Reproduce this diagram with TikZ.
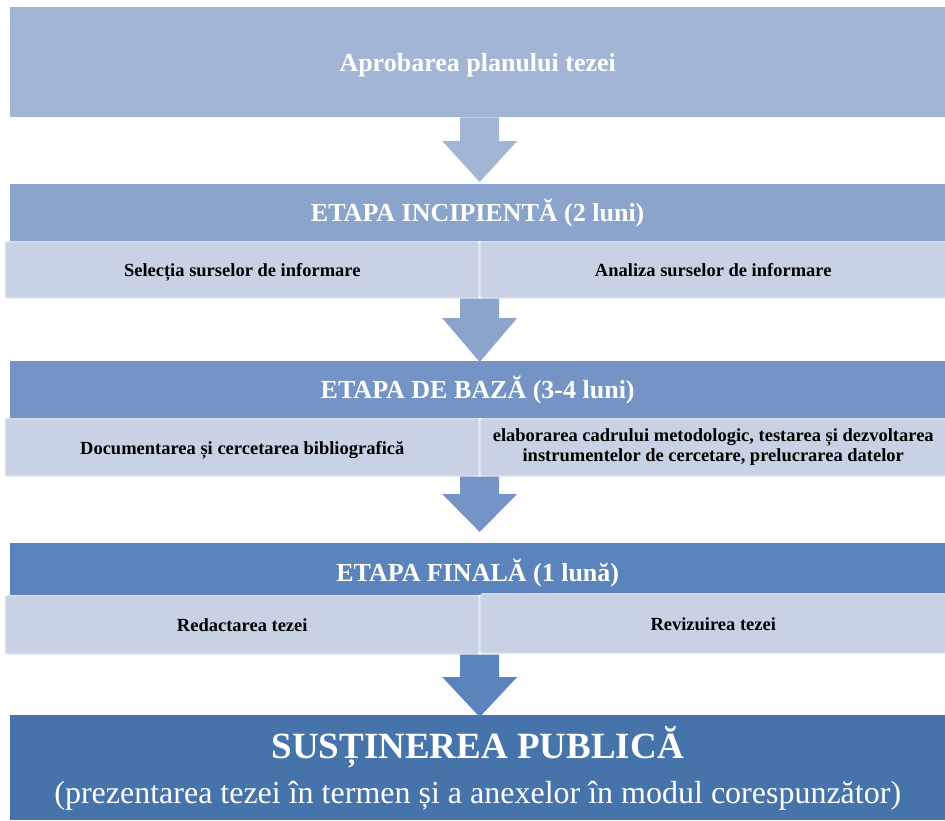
\documentclass[tikz,border=0pt]{standalone}
\usepackage{fontspec}
\setmainfont{Liberation Serif}
\usetikzlibrary{positioning,calc}
\definecolor{farbeA}{HTML}{A3B5D5}
\definecolor{farbeB}{HTML}{8BA4CC}
\definecolor{farbeC}{HTML}{7394C4}
\definecolor{farbeD}{HTML}{5C84BC}
\definecolor{farbeE}{HTML}{4673AA}
\definecolor{zeilefarbe}{HTML}{C9D2E4}
\definecolor{zeilerand}{HTML}{D5DCEA}
\newcommand{\zeilenstuetze}{\rule[-3pt]{0pt}{20pt}}
\tikzset{kopf/.style={anchor=north west, inner sep=0pt, minimum width=935pt, text=white, align=center, font=\fontsize{26}{30}\selectfont\bfseries}}
\tikzset{zeile/.style={anchor=north west, inner sep=0pt, rounded corners=2pt, fill=zeilefarbe, draw=zeilerand, line width=1.5pt, align=center, font=\fontsize{18.5}{20}\selectfont\bfseries, text height=17pt, text depth=3pt}}
\tikzset{zweizeilig/.style={text height=, text depth=, execute at begin node=\zeilenstuetze, execute at end node=\zeilenstuetze}}
\tikzset{pfeil/.style={line join=miter}}
\newcommand{\tiefer}[2]{\raisebox{-#1}[\height][\depth]{#2}}

\begin{document}
\begin{tikzpicture}[x=1pt, y=-1pt]
		\useasboundingbox (0,0) rectangle (945,820);

		\node[kopf, fill=farbeA, minimum height=110pt] (plan) at (10,7) {\tiefer{3pt}{Aprobarea planului tezei}};

		% ETAPA INCIPIENTA
		\node[kopf, fill=farbeB, minimum height=57pt] (kopf1) at (10,184) {ETAPA INCIPIENTĂ (2 luni)};
		\node[zeile, minimum width=473pt, minimum height=56pt] (links1) at (5,241) {Selecția surselor de informare};
		\node[zeile, minimum width=465pt, minimum height=56pt] (rechts1) at (480,241) {Analiza surselor de informare};

		% ETAPA DE BAZA
		\node[kopf, fill=farbeC, minimum height=57pt] (kopf2) at (10,361) {ETAPA DE BAZĂ (3-4 luni)};
		\node[zeile, minimum width=473pt, minimum height=57pt] (links2) at (5,418) {Documentarea și cercetarea bibliografică};
		\node[zeile, zweizeilig, minimum width=465pt, minimum height=57pt] (rechts2) at (480,418) {elaborarea cadrului metodologic, testarea și dezvoltarea\\instrumentelor de cercetare, prelucrarea datelor};

		% ETAPA FINALA
		\node[kopf, fill=farbeD, minimum height=52pt] (kopf3) at (10,543) {\tiefer{4pt}{ETAPA FINALĂ (1 lună)}};
		\node[zeile, minimum width=473pt, minimum height=58pt] (links3) at (5,595) {Redactarea tezei};
		\node[zeile, minimum width=465pt, minimum height=59pt] (rechts3) at (480,593) {Revizuirea tezei};

		% SUSTINERE
		\node[kopf, fill=farbeE, minimum height=105pt, font=\fontsize{32}{47}\selectfont] (abschluss) at (10,715)
			{\tiefer{2pt}{\fontsize{37}{45}\selectfont\bfseries SUSȚINEREA PUBLICĂ}\\(prezentarea tezei în termen și a anexelor în modul corespunzător)};

		% PFEILE
		\foreach \quelle/\ziel/\farbe/\spitze/\basis in {plan/kopf1/farbeA/2/43, links1/kopf2/farbeB/-1/43, links2/kopf3/farbeC/11/49, links3/abschluss/farbeD/-2/38} {
			\fill[pfeil, \farbe] ([xshift=-17.5pt]\ziel.north |- \quelle.south) -- ([xshift=-17.5pt, yshift=\basis pt]\ziel.north)
				-- ([xshift=-35.5pt, yshift=\basis pt]\ziel.north) -- ([xshift=2pt, yshift=\spitze pt]\ziel.north)
				-- ([xshift=39.5pt, yshift=\basis pt]\ziel.north) -- ([xshift=21.5pt, yshift=\basis pt]\ziel.north)
				-- ([xshift=21.5pt]\ziel.north |- \quelle.south) -- cycle;
		}

	\end{tikzpicture}
\end{document}
